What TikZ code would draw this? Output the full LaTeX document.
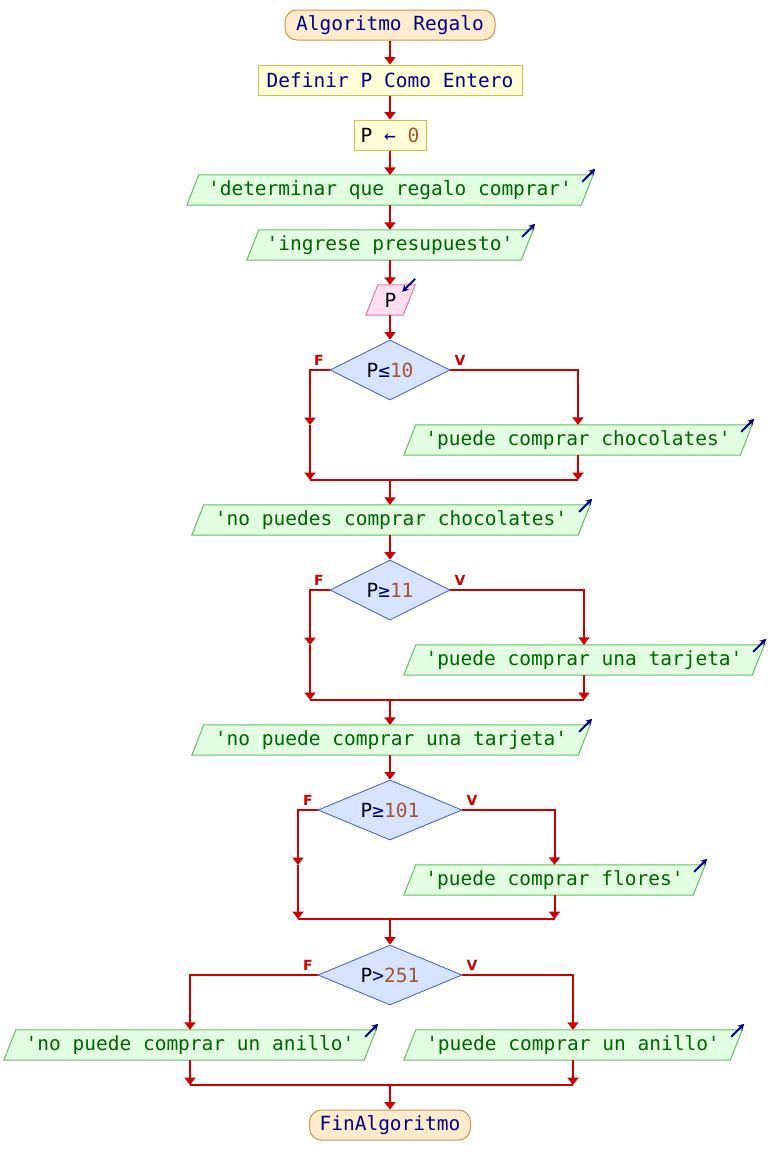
\documentclass[tikz,border=0pt]{standalone}
\usepackage{fontspec}
\setmonofont{DejaVu Sans Mono}
\setsansfont{DejaVu Sans}
\usetikzlibrary{shapes.geometric,arrows.meta,calc}
\pgfdeclarelayer{background}
\pgfsetlayers{background,main}
\definecolor{cred}{RGB}{204,0,0}
\definecolor{cnavy}{RGB}{0,0,128}
\definecolor{cgreen}{RGB}{0,100,0}
\definecolor{cbrown}{RGB}{165,85,45}
\definecolor{termfill}{RGB}{255,236,206}
\definecolor{termdraw}{RGB}{205,150,70}
\definecolor{procfill}{RGB}{255,255,215}
\definecolor{procdraw}{RGB}{205,195,80}
\definecolor{iofillc}{RGB}{226,255,226}
\definecolor{iodraw}{RGB}{100,190,100}
\definecolor{infillc}{RGB}{255,224,240}
\definecolor{indraw}{RGB}{220,120,170}
\definecolor{decfill}{RGB}{214,228,255}
\definecolor{decdraw}{RGB}{60,90,210}
\newcommand\mt{\fontsize{19.5}{22}\selectfont\ttfamily}
\tikzset{
  base/.style={inner sep=0pt, minimum height=30pt, font=\mt},
  term/.style={base, draw=termdraw, fill=termfill, rounded corners=12pt, line width=1pt, text=cnavy},
  proc/.style={base, draw=procdraw, fill=procfill, line width=1pt, text=cnavy},
  iotxt/.style={base, text=cgreen},
  outshape/.style={draw=iodraw, fill=iofillc, line width=1pt},
  inshape/.style={draw=indraw, fill=infillc, line width=1pt},
  dec/.style={diamond, aspect=2.4, draw=decdraw, fill=decfill, line width=0.8pt, inner sep=0pt,
    minimum width=120pt, minimum height=60pt, font=\mt, text=black},
  conn/.style={draw=cred, line width=2pt},
  arr/.style={conn, -{Triangle[width=11pt,length=7.5pt]}},
  lbl/.style={text=cred, font=\fontsize{14}{14}\selectfont\sffamily\bfseries, inner sep=0pt},
  icon/.style={draw=cnavy, line width=2pt, -{Stealth[length=6.5pt,width=7pt]}},
}
\newcommand\ioshape[2]{%
  \begin{pgfonlayer}{background}
    \draw[#2] ($(#1.north west)+(12,0)$) -- (#1.north east) -- ($(#1.south east)-(12,0)$) -- (#1.south west) -- cycle;
  \end{pgfonlayer}}
\newcommand\outicon[1]{\draw[icon] ($(#1.north east)+(-11,7)$) -- ($(#1.north east)+(2,-6)$);}
\begin{document}
\begin{tikzpicture}[x=1pt,y=-1pt]
\useasboundingbox (0,0) rectangle (768,1175);
% nodes
\node[term, minimum width=210pt] (start) at (390,25) {Algoritmo Regalo};
\node[proc, minimum width=264pt] (def) at (390,80) {Definir P Como Entero};
\node[proc, minimum width=72pt, text=black] (asg) at (390,135) {P {\color{cnavy}←} {\color{cbrown}0}};
\node[iotxt, minimum width=406pt] (o1) at (390,190) {'determinar que regalo comprar'};
\node[iotxt, minimum width=286pt] (o2) at (390,245) {'ingrese presupuesto'};
\node[iotxt, minimum width=49pt, text=black] (in1) at (390.5,300) {P};
\node[dec] (d1) at (390,370) {P{\color{cnavy}≤}{\color{cbrown}10}};
\node[iotxt, minimum width=348pt] (o3) at (578,440) {'puede comprar chocolates'};
\node[iotxt, minimum width=398pt] (o4) at (391,520) {'no puedes comprar chocolates'};
\node[dec] (d2) at (390,590) {P{\color{cnavy}≥}{\color{cbrown}11}};
\node[iotxt, minimum width=360pt] (o5) at (584,660) {'puede comprar una tarjeta'};
\node[iotxt, minimum width=398pt] (o6) at (391,740) {'no puede comprar una tarjeta'};
\node[dec, minimum width=144pt] (d3) at (390,810) {P{\color{cnavy}≥}{\color{cbrown}101}};
\node[iotxt, minimum width=301pt] (o7) at (554.5,880) {'puede comprar flores'};
\node[dec, minimum width=144pt] (d4) at (390,975) {P{\color{cnavy}>}{\color{cbrown}251}};
\node[iotxt, minimum width=372pt] (o8) at (190,1045) {'no puede comprar un anillo'};
\node[iotxt, minimum width=338pt] (o9) at (573,1045) {'puede comprar un anillo'};
\node[term, minimum width=161pt] (end) at (390,1125) {FinAlgoritmo};
% parallelogram shapes
\ioshape{o1}{outshape}\ioshape{o2}{outshape}\ioshape{in1}{inshape}
\ioshape{o3}{outshape}\ioshape{o4}{outshape}\ioshape{o5}{outshape}
\ioshape{o6}{outshape}\ioshape{o7}{outshape}\ioshape{o8}{outshape}\ioshape{o9}{outshape}
% icons
\outicon{o1}\outicon{o2}\outicon{o3}\outicon{o4}\outicon{o5}
\outicon{o6}\outicon{o7}\outicon{o8}\outicon{o9}
\draw[icon] ($(in1.north east)+(0,-6)$) -- ($(in1.north east)+(-13,7)$);
% labels
\node[lbl] (f1) at (319,360) {F};
\node[lbl] (v1) at (460,360) {V};
\node[lbl] (f2) at (319,580) {F};
\node[lbl] (v2) at (460,580) {V};
\node[lbl] (f3) at (308,800) {F};
\node[lbl] (v3) at (472,800) {V};
\node[lbl] (f4) at (308,965) {F};
\node[lbl] (v4) at (472,965) {V};
% coordinates
\coordinate (d1m) at (310,425);
\coordinate (j1l) at (310,480);
\coordinate (j1r) at (578,480);
\coordinate (j1) at (390,480);
\coordinate (d2m) at (310,645);
\coordinate (j2l) at (310,700);
\coordinate (j2r) at (584,700);
\coordinate (j2) at (390,700);
\coordinate (d3m) at (298,865);
\coordinate (j3l) at (298,919);
\coordinate (j3r) at (554.5,919);
\coordinate (j3) at (390,919);
\coordinate (j4l) at (190,1085);
\coordinate (j4r) at (573,1085);
\coordinate (j4) at (390,1085);
% connectors
\draw[arr] (start.south) -- (def.north);
\draw[arr] (def.south) -- (asg.north);
\draw[arr] (asg.south) -- (o1.north);
\draw[arr] (o1.south) -- (o2.north);
\draw[arr] (o2.south) -- (in1.north -| o2.south);
\draw[arr] (in1.south -| o2.south) -- (d1.north);
% decision 1
\draw[arr] (d1.west) -| (d1m);
\draw[arr] (d1m) -- (j1l);
\draw[arr] (d1.east) -| (o3.north);
\draw[arr] (o3.south) -- (j1r);
\draw[conn] (j1l) -- (j1r);
\draw[arr] (j1) -- (j1 |- o4.north);
\draw[arr] (j1 |- o4.south) -- (d2.north);
% decision 2
\draw[arr] (d2.west) -| (d2m);
\draw[arr] (d2m) -- (j2l);
\draw[arr] (d2.east) -| (o5.north);
\draw[arr] (o5.south) -- (j2r);
\draw[conn] (j2l) -- (j2r);
\draw[arr] (j2) -- (j2 |- o6.north);
\draw[arr] (j2 |- o6.south) -- (d3.north);
% decision 3
\draw[arr] (d3.west) -| (d3m);
\draw[arr] (d3m) -- (j3l);
\draw[arr] (d3.east) -| (o7.north);
\draw[arr] (o7.south) -- (j3r);
\draw[conn] (j3l) -- (j3r);
\draw[arr] (j3) -- (d4.north);
% decision 4
\draw[arr] (d4.west) -| (o8.north);
\draw[arr] (d4.east) -| (o9.north);
\draw[arr] (o8.south) -- (j4l);
\draw[arr] (o9.south) -- (j4r);
\draw[conn] (j4l) -- (j4r);
\draw[arr] (j4) -- (end.north);
\end{tikzpicture}
\end{document}
